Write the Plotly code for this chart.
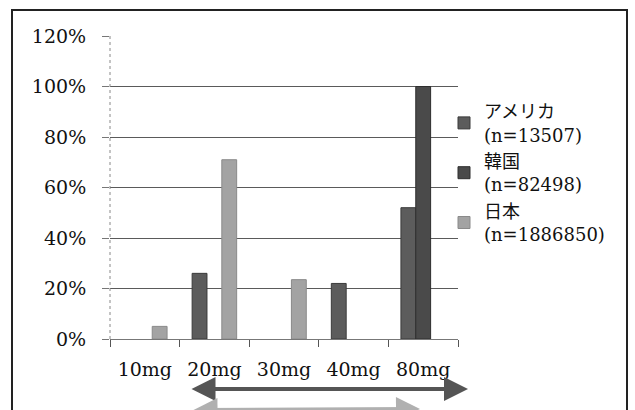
import plotly.graph_objects as go

categories = ["10mg", "20mg", "30mg", "40mg", "80mg"]
series_names = ["アメリカ<br>(n=13507)", "韓国<br>(n=82498)", "日本<br>(n=1886850)"]
usa = [None, 0.26, None, 0.22, 0.52]
korea = [None, None, None, None, 1.00]
japan = [0.05, 0.71, 0.235, None, None]
tick_vals = [0, 0.2, 0.4, 0.6, 0.8, 1.0, 1.2]
tick_text = ["0%", "20%", "40%", "60%", "80%", "100%", "120%"]

colors = ["#5c5c5c", "#4a4a4a", "#a3a3a3"]
line_colors = ["#3a3a3a", "#2e2e2e", "#8a8a8a"]

FONT = "'DejaVu Serif', 'Noto Sans CJK JP'"

fig = go.Figure()
for name, vals, c, lc in zip(series_names, [usa, korea, japan], colors, line_colors):
    fig.add_trace(go.Bar(x=categories, y=vals, name=name,
                         marker=dict(color=c, line=dict(color=lc, width=1))))

L, R, T, B = 110, 177, 36, 71
W, H = 635, 410
pw, ph = W - L - R, H - T - B

def px(x):
    return (x - L) / pw

def py(y):
    return (H - B - y) / ph

fig.update_layout(
    width=W, height=H,
    margin=dict(l=L, r=R, t=T, b=B, pad=0),
    paper_bgcolor="white", plot_bgcolor="white",
    barmode="group", bargap=0.36, bargroupgap=0,
    font=dict(family=FONT, size=19, color="#111"),
    showlegend=True,
    legend=dict(x=px(444), y=py(93), xanchor="left", yanchor="top",
                font=dict(family=FONT, size=18, color="#111"),
                itemwidth=30, tracegroupgap=4, bgcolor="rgba(0,0,0,0)"),
    xaxis=dict(showline=True, linecolor="#777", linewidth=1, ticks="outside",
               tickson="boundaries", ticklen=7, tickcolor="#555", showgrid=False,
               tickfont=dict(size=19), ticklabelstandoff=13),
    yaxis=dict(range=[0, 1.2], tickvals=tick_vals, ticktext=tick_text,
               showgrid=True, gridcolor="#5a5a5a", gridwidth=1, ticks="outside",
               ticklen=7, tickcolor="#777", showline=False, zeroline=False,
               tickfont=dict(size=19), ticklabelstandoff=12),
    shapes=[
        dict(type="rect", xref="paper", yref="paper", x0=px(12), x1=px(627),
             y0=py(430), y1=py(10), line=dict(color="#222", width=2), layer="below"),
        dict(type="line", xref="paper", yref="paper", x0=0, x1=0, y0=0, y1=1,
             line=dict(color="#888", width=1, dash="dot")),
    ],
    annotations=[
        dict(xref="paper", yref="paper", x=px(468), y=py(389), ax=-278, ay=0,
             text="", showarrow=True, arrowside="end+start", arrowhead=2,
             arrowsize=1.2, arrowwidth=4, arrowcolor="#555"),
        dict(xref="paper", yref="paper", x=px(420), y=py(412), ax=-228, ay=0,
             text="", showarrow=True, arrowside="end+start", arrowhead=2,
             arrowsize=1.2, arrowwidth=4, arrowcolor="#b0b0b0"),
    ],
)

fig.write_html("out.html")
